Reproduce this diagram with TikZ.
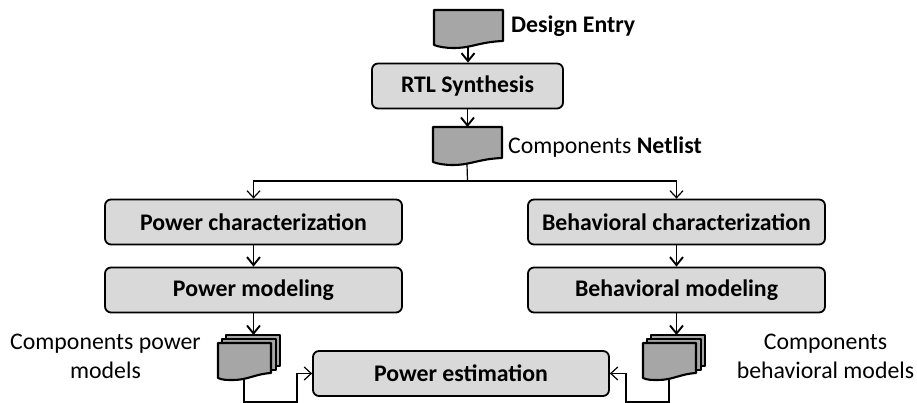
\documentclass[tikz,border=0pt]{standalone}
\usepackage{fontspec}
\setmainfont{Carlito}
\usetikzlibrary{arrows.meta}
\definecolor{boxgray}{gray}{0.85}
\definecolor{docgray}{gray}{0.65}
\tikzset{
  procbox/.style={draw,line width=1.8pt,rounded corners=6pt,fill=boxgray,minimum height=45pt,inner sep=0pt,font=\fontsize{23.8}{28}\selectfont\bfseries},
  lbl/.style={inner sep=0pt,font=\fontsize{23.8}{29}\selectfont,align=center},
  flow/.style={line width=1.9pt,-{Straight Barb[length=8pt,width=13pt]}},
  thinflow/.style={line width=1.2pt,-{Straight Barb[length=7pt,width=13pt]}},
  thinline/.style={line width=1.2pt},
  doc/.style={draw,line width=2.1pt,fill=docgray,line join=round},
  docpage/.pic={
    \draw[doc] (0,0) -- (69,0) -- (69,-31) .. controls (45,-32) and (38,-38) .. (20,-38) .. controls (12,-38) and (5,-37) .. (0,-35) -- cycle;
    \coordinate (-top) at (34,0);
    \coordinate (-bot) at (34,-37);
  },
  docstack/.pic={
    \draw[doc] (8,8) rectangle (62,-23);
    \draw[doc] (4,4) rectangle (58,-27);
    \draw[doc] (0,0) -- (53,0) -- (53,-30) .. controls (37,-31) and (30,-37) .. (15,-37) .. controls (9,-37) and (4,-37) .. (0,-35) -- cycle;
    \coordinate (-top) at (35,8);
    \coordinate (-bot) at (26,-36);
  },
}
\begin{document}
\begin{tikzpicture}[x=1pt,y=1pt]
\useasboundingbox (0,0) rectangle (917,403);
\fill[white] (0,0) rectangle (917,403);
% process boxes
\node[procbox,minimum width=191pt] (rtl) at (467.5,317) {RTL Synthesis};
\node[procbox,minimum width=297pt] (pchar) at (253.5,181) {Power characterization};
\node[procbox,minimum width=297pt] (pmod) at (253.5,113) {Power modeling};
\node[procbox,minimum width=297pt] (bchar) at (676.5,181) {Behavioral characterization};
\node[procbox,minimum width=297pt] (bmod) at (676.5,113) {Behavioral modeling};
\node[procbox,minimum width=296pt] (pest) at (461,29.5) {Power estimation};
% documents
\pic (entrydoc) at (434,393) {docpage};
\pic (netdoc) at (433,276) {docpage};
\pic (pstack) at (218,60) {docstack};
\pic (bstack) at (643,60) {docstack};
% labels
\node[lbl,anchor=west,font=\fontsize{23.8}{29}\selectfont\bfseries] (entrylbl) at (511,377) {Design Entry};
\node[lbl,anchor=west] (netlbl) at (508,256) {Components \textbf{Netlist}};
\node[lbl] (plbl) at (105.5,47) {Components power\\models};
\node[lbl] (blbl) at (825.5,47) {Components\\behavioral models};
% connectors
\draw[flow] (entrydoc-bot) -- (entrydoc-bot |- rtl.north);
\draw[flow] (rtl.south) -- (netdoc-top -| rtl.south);
\coordinate (netsplit) at (467.5,222);
\draw[thinline] (netdoc-bot) -- (netsplit);
\draw[thinflow] (netsplit) -| (pchar.north);
\draw[thinflow] (netsplit) -| (bchar.north);
\draw[flow] (pchar.south) -- (pmod.north);
\draw[flow] (bchar.south) -- (bmod.north);
\draw[flow] (pmod.south) -- (pstack-top -| pmod.south);
\draw[flow] (bmod.south) -- (bstack-top -| bmod.south);
\coordinate (plow) at (297,1);
\coordinate (blow) at (626,1);
\draw[thinflow] (pstack-bot) |- (plow) |- (pest.west);
\draw[thinflow] (bstack-bot) |- (blow) |- (pest.east);
\end{tikzpicture}
\end{document}
